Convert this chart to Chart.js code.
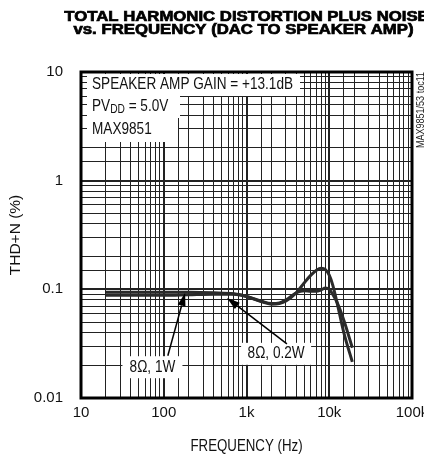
<!DOCTYPE html>
<html>
<head>
<meta charset="utf-8">
<script src="https://cdn.jsdelivr.net/npm/chart.js@4.4.1/dist/chart.umd.min.js"></script>
<style>
  html, body { margin: 0; padding: 0; background: #fff; }
  canvas { display: block; }
</style>
</head>
<body>
<canvas id="thdChart" width="424" height="456"></canvas>
<script>
// THD+N vs frequency, DAC to speaker amp

const freqHz = [20, 50, 100, 200, 400, 700, 1000, 1500, 2000, 2500, 3000, 4000, 5000, 6000, 7000, 8000, 9000, 10000, 11000, 12500, 15000, 19000];
const thd02W = [0.094, 0.094, 0.094, 0.094, 0.093, 0.091, 0.086, 0.077, 0.073, 0.074, 0.078, 0.093, 0.115, 0.135, 0.150, 0.156, 0.152, 0.135, 0.110, 0.074, 0.040, 0.0215];
const thd1W = [0.088, 0.088, 0.088, 0.089, 0.090, 0.090, 0.086, 0.078, 0.074, 0.075, 0.080, 0.093, 0.097, 0.096, 0.096, 0.099, 0.103, 0.100, 0.090, 0.075, 0.052, 0.029];

const xMajor = [10, 100, 1000, 10000, 100000];
const xLabels = ['10', '100', '1k', '10k', '100k'];
const yMajor = [0.01, 0.1, 1, 10];
const yLabels = ['0.01', '0.1', '1', '10'];

const titleLines = ['TOTAL HARMONIC DISTORTION PLUS NOISE', 'vs. FREQUENCY (DAC TO SPEAKER AMP)'];

const FONT = '"Liberation Sans", Arial, sans-serif';

function isDecade(v) {
    const l = Math.log10(v);
    return Math.abs(l - Math.round(l)) < 1e-6;
}

function labelFor(value, majors, labels) {
    for (let i = 0; i < majors.length; i++) {
        if (Math.abs(value / majors[i] - 1) < 1e-6) return labels[i];
    }
    return '';
}

function toPoints(xs, ys) {
    return xs.map((x, i) => ({ x: x, y: ys[i] }));
}

// text squeezed sideways, the original uses a narrow face
function narrowText(ctx, text, x, y, sx) {
    ctx.save();
    ctx.translate(x, y);
    ctx.scale(sx, 1);
    ctx.fillText(text, 0, 0);
    ctx.restore();
    return ctx.measureText(text).width * sx;
}

// white boxes drawn over the grid, under the curves
const annoPlugin = {
    id: 'annotations',
    beforeDatasetsDraw(chart) {
        const ctx = chart.ctx;
        const x = chart.scales.x, y = chart.scales.y;
        const a = chart.chartArea;
        ctx.save();
        ctx.fillStyle = '#fff';
        // top-left condition text boxes
        ctx.fillRect(a.left + 6, a.top + 2, 213, 22);
        ctx.fillRect(a.left + 6, a.top + 24, 93, 22);
        ctx.fillRect(a.left + 6, a.top + 46, 91, 24);
        // curve labels
        const l1x = x.getPixelForValue(73), l1y = y.getPixelForValue(0.0192);
        const l2x = x.getPixelForValue(2280), l2y = y.getPixelForValue(0.0255);
        ctx.fillRect(l1x - 30, l1y - 11, 60, 22);
        ctx.fillRect(l2x - 35, l2y - 11, 70, 22);

        ctx.fillStyle = '#111';
        ctx.textBaseline = 'middle';
        ctx.textAlign = 'left';
        const sx = 0.85;
        const tx = a.left + 11;
        ctx.font = '16px ' + FONT;
        narrowText(ctx, 'SPEAKER AMP GAIN = +13.1dB', tx, a.top + 13, sx);
        let w = narrowText(ctx, 'PV', tx, a.top + 35, sx);
        ctx.font = '12px ' + FONT;
        w += narrowText(ctx, 'DD', tx + w, a.top + 38, sx);
        ctx.font = '16px ' + FONT;
        narrowText(ctx, ' = 5.0V', tx + w, a.top + 35, sx);
        narrowText(ctx, 'MAX9851', tx, a.top + 58, sx);

        ctx.textAlign = 'center';
        narrowText(ctx, '8\u03A9, 1W', l1x, l1y, sx);
        narrowText(ctx, '8\u03A9, 0.2W', l2x, l2y, sx);
        ctx.restore();
    },
    afterDatasetsDraw(chart) {
        const ctx = chart.ctx;
        const x = chart.scales.x, y = chart.scales.y;
        const a = chart.chartArea;
        ctx.save();
        drawArrow(ctx, x.getPixelForValue(112), y.getPixelForValue(0.0245), x.getPixelForValue(181), y.getPixelForValue(0.0925));
        drawArrow(ctx, x.getPixelForValue(3080), y.getPixelForValue(0.0315), x.getPixelForValue(581), y.getPixelForValue(0.0832));

        // frame
        ctx.strokeStyle = '#000';
        ctx.lineWidth = 3;
        ctx.strokeRect(a.left, a.top, a.right - a.left, a.bottom - a.top);

        // x axis title, narrow like the original
        ctx.fillStyle = '#111';
        ctx.textAlign = 'center';
        ctx.textBaseline = 'middle';
        ctx.font = '16px ' + FONT;
        narrowText(ctx, 'FREQUENCY (Hz)', (a.left + a.right) / 2, 447, 0.83);

        // title, heavy and condensed like the original
        ctx.fillStyle = '#000';
        ctx.strokeStyle = '#000';
        ctx.lineWidth = 0.7;
        ctx.textBaseline = 'alphabetic';
        ctx.font = 'bold 14px ' + FONT;
        const sx = 340 / ctx.measureText(titleLines[1]).width;
        const cx = (a.left + a.right) / 2;
        [[21, 0], [33.5, -3]].forEach((p, i) => {
            ctx.save();
            ctx.translate(cx + p[1], p[0]);
            ctx.scale(sx, 1);
            ctx.fillText(titleLines[i], 0, 0);
            ctx.strokeText(titleLines[i], 0, 0);
            ctx.restore();
        });

        // figure tag on the right edge
        ctx.save();
        ctx.translate(421, a.top + 38);
        ctx.rotate(-Math.PI / 2);
        ctx.font = '11px ' + FONT;
        ctx.fillStyle = '#222';
        ctx.textBaseline = 'middle';
        narrowText(ctx, 'MAX9851/53 toc11', 0, 0, 0.82);
        ctx.restore();
        ctx.restore();
    }
};

function drawArrow(ctx, x0, y0, x1, y1) {
    const ang = Math.atan2(y1 - y0, x1 - x0);
    const len = 13, half = 4;
    const bx = x1 - Math.cos(ang) * len, by = y1 - Math.sin(ang) * len;
    ctx.strokeStyle = '#000';
    ctx.fillStyle = '#000';
    ctx.lineWidth = 1.5;
    ctx.beginPath();
    ctx.moveTo(x0, y0);
    ctx.lineTo(bx, by);
    ctx.stroke();
    ctx.beginPath();
    ctx.moveTo(x1, y1);
    ctx.lineTo(bx - Math.sin(ang) * half, by + Math.cos(ang) * half);
    ctx.lineTo(bx + Math.sin(ang) * half, by - Math.cos(ang) * half);
    ctx.closePath();
    ctx.fill();
}

function gridWidth(c) {
    return c.tick && isDecade(c.tick.value) ? 2 : 1;
}

new Chart(document.getElementById('thdChart'), {
    type: 'line',
    data: {
        datasets: [
            {
                label: '8\u03A9, 0.2W',
                data: toPoints(freqHz, thd02W),
                borderColor: '#2a2a2a',
                borderWidth: 3,
                pointRadius: 0,
                cubicInterpolationMode: 'monotone',
                fill: false
            },
            {
                label: '8\u03A9, 1W',
                data: toPoints(freqHz, thd1W),
                borderColor: '#2a2a2a',
                borderWidth: 3,
                pointRadius: 0,
                cubicInterpolationMode: 'monotone',
                fill: false
            }
        ]
    },
    options: {
        responsive: false,
        devicePixelRatio: 1,
        animation: false,
        layout: { padding: { left: 0, right: 12, top: 72, bottom: 0 } },
        plugins: {
            legend: { display: false },
            tooltip: { enabled: false }
        },
        scales: {
            x: {
                type: 'logarithmic',
                min: 10,
                max: 100000,
                afterFit: s => { s.height = 58; s.paddingLeft = 0; s.paddingRight = 0; },
                grid: { color: '#222', lineWidth: gridWidth, drawTicks: false },
                border: { display: false },
                ticks: {
                    autoSkip: false,
                    maxRotation: 0,
                    padding: 6,
                    color: '#111',
                    font: { family: FONT, size: 15 },
                    callback: v => labelFor(v, xMajor, xLabels)
                },
                title: { display: false }
            },
            y: {
                type: 'logarithmic',
                min: 0.01,
                max: 10,
                afterFit: s => { s.width = 81; },
                grid: { color: '#222', lineWidth: gridWidth, drawTicks: false },
                border: { display: false },
                ticks: {
                    autoSkip: false,
                    padding: 18,
                    color: '#111',
                    font: { family: FONT, size: 15 },
                    callback: v => labelFor(v, yMajor, yLabels)
                },
                title: {
                    display: true,
                    text: 'THD+N (%)',
                    color: '#111',
                    font: { family: FONT, size: 15.5, lineHeight: 1 },
                    padding: { top: 8, bottom: 0 }
                }
            }
        }
    },
    plugins: [annoPlugin]
});
</script>
</body>
</html>
